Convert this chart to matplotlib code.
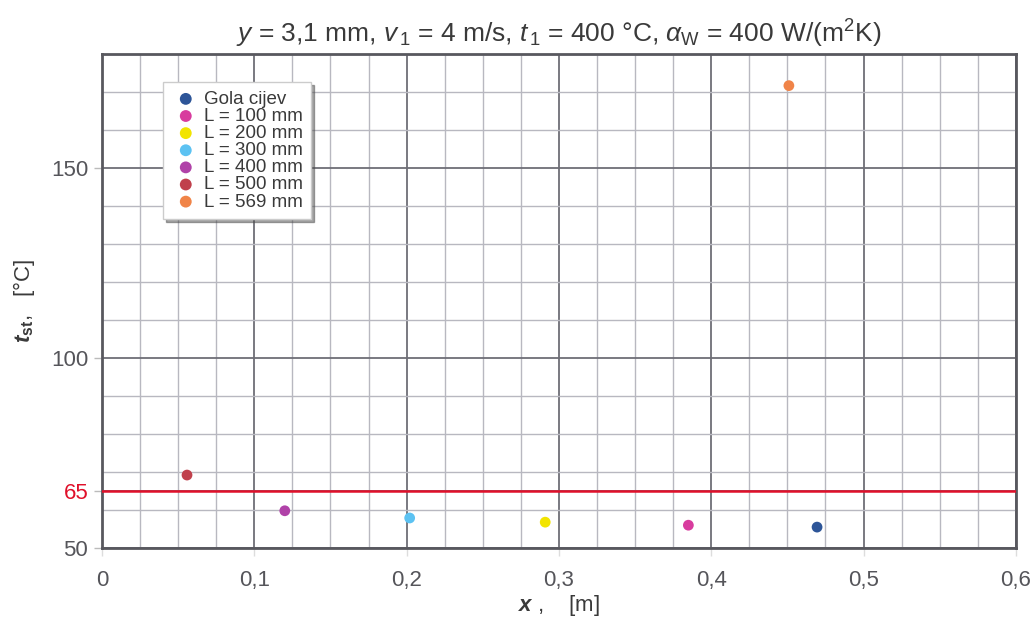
import matplotlib.pyplot as plt
from matplotlib.ticker import MultipleLocator, FuncFormatter

plt.rcParams['font.family'] = ['Liberation Sans', 'DejaVu Sans']
plt.rcParams['mathtext.fontset'] = 'custom'
plt.rcParams['mathtext.rm'] = 'Liberation Sans'
plt.rcParams['mathtext.it'] = 'Liberation Sans:italic'
plt.rcParams['mathtext.bf'] = 'Liberation Sans:bold'
plt.rcParams['mathtext.bfit'] = 'Liberation Sans:italic:bold'

# data
labels = ['Gola cijev', 'L = 100 mm', 'L = 200 mm', 'L = 300 mm',
          'L = 400 mm', 'L = 500 mm', 'L = 569 mm']
x_pos = [0.4695, 0.385, 0.291, 0.202, 0.120, 0.0558, 0.451]
t_st = [55.5, 56.0, 56.8, 57.9, 59.8, 69.2, 171.7]
colors = ['#2d5598', '#d83c9e', '#f2e400', '#5cc2f2', '#b042a8', '#c0404c', '#f08448']
limit_t = 65
y_ticks = [50, 65, 100, 150]
x_ticks = [0, 0.1, 0.2, 0.3, 0.4, 0.5, 0.6]

fig = plt.figure(figsize=(10.36, 6.26), dpi=100)
ax = fig.add_axes([0.0985, 0.1246, 0.882, 0.789])

for xi, yi, c, lab in zip(x_pos, t_st, colors, labels):
    ax.scatter(xi, yi, s=60, color=c, label=lab, zorder=4, edgecolors='none')

ax.axhline(limit_t, color='#e0102a', lw=1.8, zorder=3)

ax.set_xlim(0, 0.6)
ax.set_ylim(50, 180)
ax.set_xticks(x_ticks)
ax.set_yticks(y_ticks)
ax.xaxis.set_minor_locator(MultipleLocator(0.025))
ax.yaxis.set_minor_locator(MultipleLocator(10))
ax.xaxis.set_major_formatter(FuncFormatter(lambda v, p: ('%g' % v).replace('.', ',')))

ax.grid(which='minor', color='#b8b8c0', lw=1.0, zorder=1)
ax.grid(which='major', color='#6e6e76', lw=1.3, zorder=1)
ax.set_axisbelow(True)

for s in ax.spines.values():
    s.set_color('#58585e')
    s.set_linewidth(2)

ax.tick_params(which='minor', length=0)
ax.tick_params(axis='y', which='major', length=6, width=1, color='#bbbbbb',
               labelsize=16, labelcolor='#55555a', pad=4)
ax.tick_params(axis='x', which='major', length=6, width=1, color='#dddddd',
               labelsize=16, labelcolor='#55555a', pad=10)
for lbl in ax.get_yticklabels():
    if lbl.get_text() == '65':
        lbl.set_color('#e0102a')

ax.set_title(r'$y$ = 3,1 mm, $v_{\,1}$ = 4 m/s, $t_{\,1}$ = 400 °C, $\alpha_{\rm W}$ = 400 W/(m$^{2}$K)',
             fontsize=19, color='#3a3a3a', pad=8)
ax.set_xlabel(r'$\mathbfit{x}$ ,    [m]', fontsize=16, color='#3a3a3a', labelpad=1)
ax.set_ylabel(r'$\mathbfit{t}_{\mathbf{st}}$,   [°C]', fontsize=16, color='#3a3a3a', labelpad=10)

leg = ax.legend(loc='upper left', bbox_to_anchor=(0.067, 0.943), borderaxespad=0,
                fontsize=13.5, frameon=True, fancybox=False, shadow=True,
                edgecolor='#cccccc', framealpha=1, handletextpad=0.2,
                labelspacing=0.0, markerscale=1.1, borderpad=0.45,
                handlelength=1.5)
for t in leg.get_texts():
    t.set_color('#3a3a3a')

fig.savefig('out.png', dpi=100)
